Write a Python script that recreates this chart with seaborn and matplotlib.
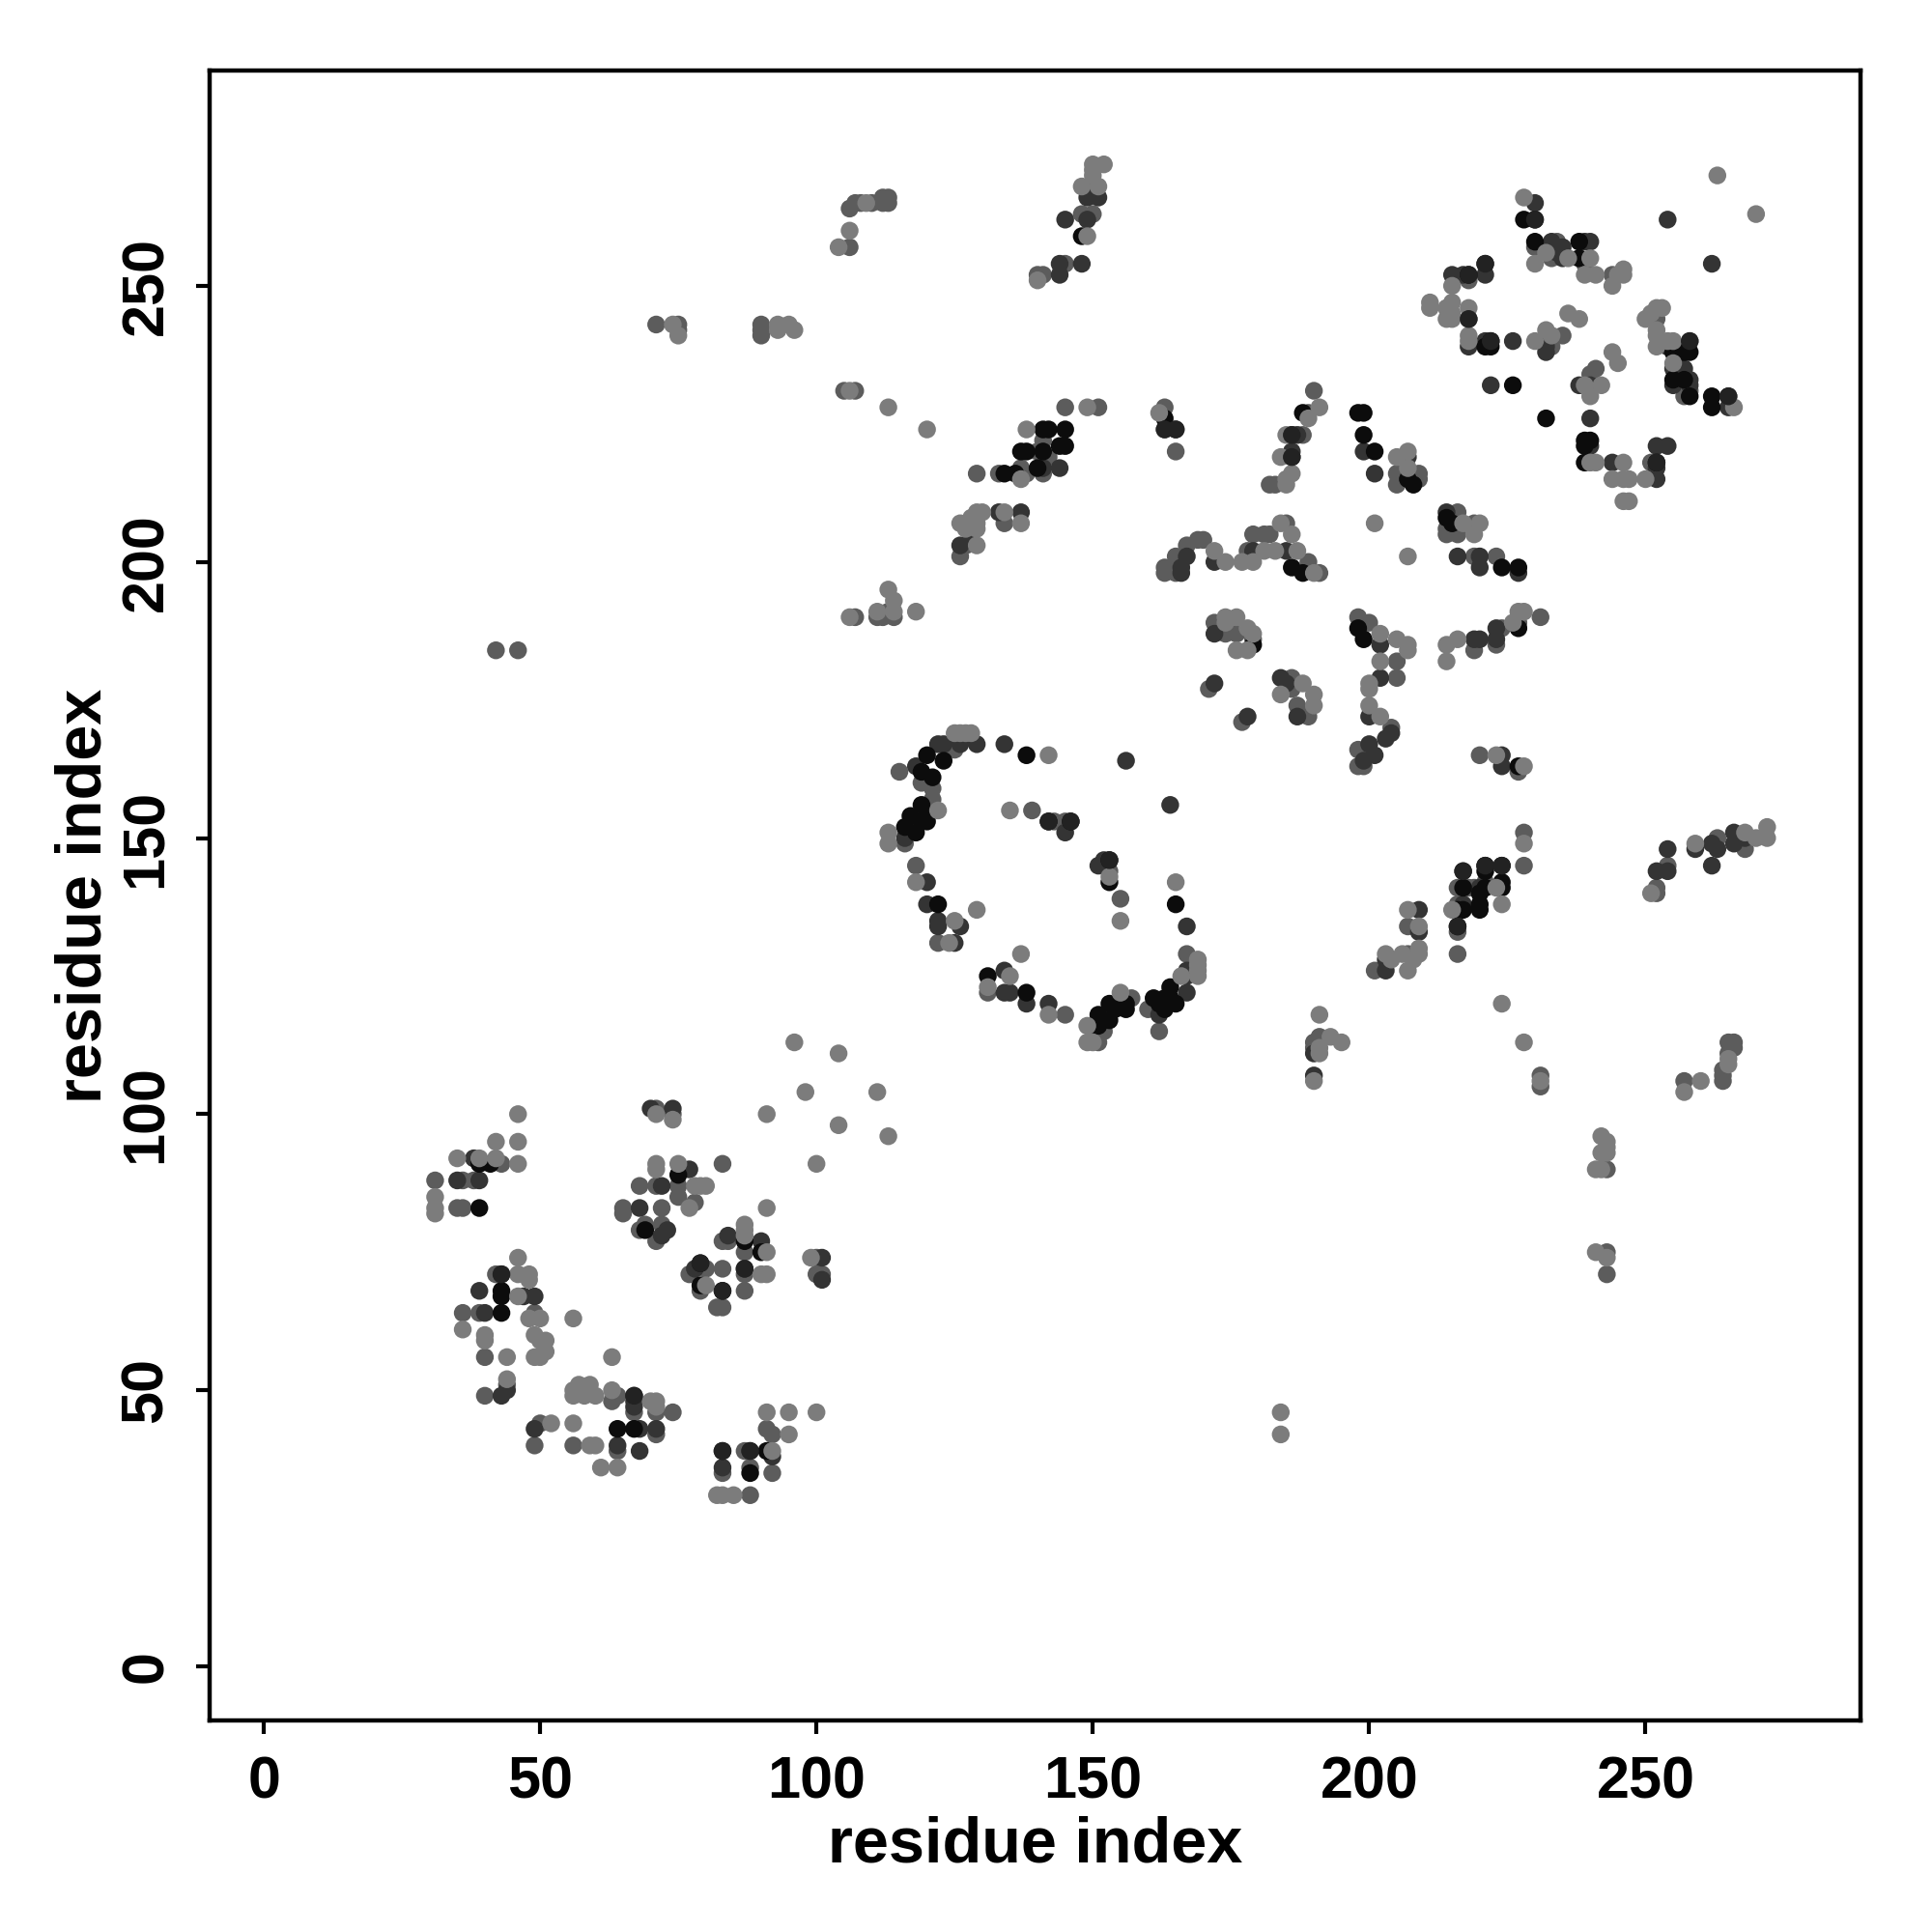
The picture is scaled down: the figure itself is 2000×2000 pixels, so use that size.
import matplotlib
matplotlib.use("Agg")
import matplotlib.pyplot as plt
import seaborn as sns
import pandas as pd

tick_values = [0, 50, 100, 150, 200, 250]

shade_black = [(39,91),(41,91),(39,83),(75,89),(69,79),(87,77),(90,75),(83,68),(79,73),(79,69),(43,68),(43,67),(43,64),
(64,43),(67,43),(83,39),(91,39),(88,35),(228,262),(230,262),(230,258),(218,252),(222,240),(221,239),(222,239),(226,232),(232,226),(238,258),(238,255),(239,222),(240,222),(239,221),(239,218),(252,218),(255,238),(258,238),(257,238),(255,233),(257,233),(258,230),(262,230),(262,228),
(148,259),(141,224),(142,224),(145,224),(144,221),(145,221),(137,220),(138,220),(141,220),(136,216),(140,217),(134,216),
(163,226),(198,227),(199,227),(188,227),(199,223),(201,220),(207,215),(208,214),(214,208),(215,207),(186,199),(188,198),(224,199),(227,199),(179,185),(198,188),(199,186),(227,188),(227,163),
(138,165),(120,165),(123,164),(119,162),(121,161),(119,156),(117,154),(120,154),(119,153),(116,152),(120,153),(118,151),(142,153),(146,153),(153,146),(153,142),(122,138),(165,138),
(165,120),(164,123),(163,121),(164,121),(162,120),(161,121),(163,119),(131,125),(138,122),(156,120),(156,119),(153,120),(154,119),(151,118),(153,117),(152,117),(151,116),
(221,145),(221,144),(224,145),(224,142),(224,141),(217,141),(220,140),(221,141),(216,137),(217,137),(220,137),(220,138),(216,134)]

shade_dark = [(38,92),(35,88),(39,88),(70,101),(74,101),(77,90),(72,87),(68,83),(73,79),(72,78),(84,78),(90,77),(87,72),(78,72),(101,74),(101,70),
(39,68),(47,67),(49,67),(40,64),(43,71),(44,50),(43,49),(67,49),(67,48),(67,47),(49,43),(68,43),(71,43),(64,40),(68,39),(83,36),(88,39),(92,38),
(254,262),(262,254),(230,265),(233,258),(234,256),(235,257),(235,255),(239,258),(240,258),(221,254),(221,252),(215,252),(217,252),(218,244),(218,239),(221,240),(226,240),(232,239),(232,238),(222,232),(238,232),(240,232),(240,226),(240,221),(244,218),(252,215),(252,217),(252,221),(254,221),(254,239),(255,235),(257,235),(258,233),(255,232),(258,232),(265,230),(265,228),
(149,267),(151,266),(149,266),(149,262),(145,262),(148,254),(144,254),(144,252),(141,217),(144,217),(137,209),(133,209),(128,205),(126,203),(165,224),
(186,220),(186,219),(187,223),(186,223),(199,220),(201,216),(207,219),(214,209),(216,201),(220,201),(220,199),(227,198),(166,198),(166,199),(167,201),(172,200),(179,202),(185,202),(172,187),
(172,178),(178,172),(184,179),(185,178),(187,172),(202,185),(202,179),(200,172),(204,169),(203,168),(201,165),(200,167),(199,164),(219,186),(220,186),(223,188),(223,186),(224,165),(224,163),
(122,167),(123,167),(126,167),(129,167),(134,167),(118,163),(116,150),(145,151),(151,145),(152,146),(120,142),(120,138),(167,134),(122,135),(122,134),(126,134),(125,131),
(164,156),(156,164),(167,126),(167,125),(167,122),(162,118),(134,126),(134,122),(135,122),(138,120),(142,120),(150,116),
(217,144),(220,141),(217,138),(209,137),(209,133),(203,128),(203,126),(266,151),(266,149),(262,149),(263,148),(259,148),(262,145),(254,148),(254,144),(252,144),(268,150),(190,111),(190,107)]

shade_mid = [(31,88),(36,88),(38,88),(35,83),(36,83),(43,91),(71,101),(74,100),(68,87),(71,87),(75,87),(75,85),(78,84),(65,83),(65,82),(72,83),(83,91),(69,80),(72,80),(68,79),(71,77),
(84,77),(87,75),(83,77),(87,71),(77,71),(79,68),(80,72),(87,68),(83,72),(82,65),(83,65),(100,74),(100,71),(101,71),
(42,71),(36,64),(39,64),(49,64),(40,56),(44,51),(40,49),(64,49),(63,48),(67,46),(71,46),(74,46),(50,44),(49,40),(71,42),(56,40),(64,39),(91,43),(92,42),(87,39),(83,35),(92,35),(88,36),(88,31),
(71,243),(75,243),(75,242),(90,243),(90,242),(90,241),(106,257),(106,264),(107,265),(108,265),(110,265),(112,265),(113,266),(113,265),(112,266),
(148,263),(150,263),(145,254),(141,252),(140,252),(105,231),(107,231),(145,228),(151,228),(141,222),(140,220),(142,219),(137,217),(141,216),(138,216),(133,216),(129,216),
(134,207),(127,203),(126,201),(114,190),(111,190),(112,190),(113,191),(107,190),(163,228),(163,224),(165,220),(190,231),(189,227),(188,223),(182,214),(183,214),(205,216),(205,214),(209,216),(209,215),
(216,209),(214,205),(216,205),(219,207),(214,206),(219,201),(223,201),(163,199),(163,198),(165,198),(165,201),(167,203),(169,204),(170,204),(178,202),(179,205),(181,205),(182,205),(185,207),(189,200),(191,198),
(172,189),(174,187),(176,187),(179,186),(171,177),(177,171),(186,179),(186,177),(187,174),(189,172),(198,190),(200,189),(205,182),(205,179),(204,170),(198,166),(198,163),(199,163),
(219,184),(224,188),(223,185),(227,189),(231,190),(220,165),(227,162),(228,151),(228,145),(125,166),(115,162),(119,160),(121,159),(121,157),(116,149),(139,155),(145,153),(153,144),(155,139),(118,145),
(122,131),(167,129),(131,122),(157,121),(160,119),(162,115),(145,118),(152,115),(151,113),(143,153),
(230,257),(233,255),(234,258),(239,254),(244,252),(218,251),(232,240),(235,241),(233,239),(241,235),(240,234),(252,244),(258,240),(257,230),(258,231),(251,218),
(216,138),(216,141),(218,141),(219,141),(221,142),(216,133),(216,129),(207,134),(207,129),(201,126),(268,148),(263,150),(254,145),(252,141),(252,140),
(231,107),(231,105),(257,106),(264,108),(264,107),(264,106),(266,113),(266,112),(265,113),(265,111),(243,90),(243,75),(243,71),(190,113),(191,114),(190,112),(42,184),(46,184)]

shade_light = [(46,100),(42,95),(46,95),(35,92),(42,92),(46,91),(31,85),(31,83),(31,82),(39,92),(71,100),(74,99),(71,91),(75,91),(71,90),(78,87),(79,87),(80,87),(77,83),
(91,83),(87,80),(87,79),(87,78),(91,75),(90,71),(91,71),(80,69),(96,113),(104,111),(98,104),(111,104),(91,100),(104,98),(113,96),(100,91),(99,74),
(46,74),(46,71),(48,71),(48,70),(46,67),(48,63),(50,63),(56,63),(36,61),(40,60),(40,59),(44,56),(49,60),(50,59),(51,59),(51,57),(49,56),(50,56),(63,56),(44,52),
(56,49),(56,50),(57,51),(59,51),(57,50),(60,49),(58,49),(63,50),(71,48),(71,47),(70,48),(56,44),(52,44),(59,40),(60,40),(61,36),(64,36),(91,46),(95,46),(100,46),(95,42),(92,39),(82,31),(83,31),(85,31),
(74,243),(93,243),(95,243),(96,242),(93,242),(75,241),(106,260),(104,257),(109,265),(150,272),(152,272),(150,271),(150,270),(148,268),(151,268),(149,259),(140,251),
(106,231),(113,228),(120,224),(149,228),(138,224),(137,215),(137,207),(134,209),(129,209),(130,209),(128,208),(129,207),(126,207),(127,206),(129,206),(129,203),
(113,195),(114,193),(114,191),(111,191),(118,191),(106,190),(162,227),(191,228),(189,226),(185,223),(184,219),(186,216),(185,215),(185,214),(205,219),(207,220),(207,217),
(201,207),(207,201),(217,207),(220,207),(219,205),(172,202),(174,200),(177,200),(179,200),(181,202),(183,202),(184,207),(186,205),(187,202),(190,198),(174,190),(176,190),(174,189),(178,188),(179,187),(176,184),(178,184),(188,178),(184,176),(190,176),(190,174),
(202,187),(205,186),(207,185),(207,184),(202,182),(200,178),(200,177),(200,174),(202,172),(214,185),(214,182),(216,186),(226,189),(227,191),(228,191),(223,165),(228,163),(228,149),
(125,169),(126,169),(127,169),(128,169),(142,165),(122,155),(113,151),(113,149),(135,155),(153,143),(155,135),(118,142),(165,142),(125,135),(129,137),(124,131),(137,129),
(169,128),(169,127),(169,126),(169,125),(166,125),(131,123),(135,125),(142,118),(155,122),(149,116),(149,113),(150,113),(224,120),(228,113),(231,106),
(263,270),(270,263),(228,266),(232,256),(236,255),(240,255),(239,252),(241,252),(245,252),(244,250),(246,253),(246,252),(215,250),(211,247),(211,246),(215,247),(214,246),(215,245),(214,244),(215,244),(218,246),(218,241),(218,240),
(230,240),(232,242),(233,241),(236,245),(238,244),(239,232),(242,232),(240,230),(244,238),(245,236),(240,218),(241,218),(246,218),(244,215),(246,215),(247,215),(250,215),(246,211),(247,211),
(250,244),(251,245),(253,246),(252,246),(252,242),(252,241),(252,239),(254,240),(255,240),(255,236),(266,228),(230,254),
(215,137),(224,138),(223,141),(207,137),(209,134),(209,130),(209,129),(203,129),(206,129),(204,128),(208,128),(207,126),
(272,152),(272,150),(270,150),(268,151),(259,149),(251,140),(257,104),(260,106),(265,110),(265,109),
(242,96),(243,95),(242,93),(243,93),(243,94),(241,90),(242,90),(241,75),(243,74),(191,118),(193,114),(195,113),(191,112),(191,111),(190,106),(184,46),(184,42)]

# dark contacts that lie over lighter neighbours in the picture
shade_over = [(83,39),(43,71),(67,49),(88,39),(252,218),(230,262),(258,240),(265,230),(218,252),(221,254),(222,240),
(142,153),(146,153),(153,146),(224,145),(221,145),(217,144),(216,134),(163,224),(165,224),(218,244),(87,72),(83,68),(79,73),(186,219),(186,223)]

layers = [(shade_mid, "#5c5c5c"), (shade_dark, "#343434"), (shade_black, "#0c0c0c"),
          (shade_light, "#7c7c7c"), (shade_over, "#222222")]
rows = []
for pairs, col in layers:
    rows += [(a, b, col) for a, b in pairs]
df = pd.DataFrame(rows, columns=["i", "j", "shade"])
df["order"] = range(len(df))

sns.set_theme(style="white")
plt.rcParams["font.family"] = ["Liberation Sans", "DejaVu Sans"]
plt.rcParams["font.weight"] = "bold"

fig = plt.figure(figsize=(10, 10), dpi=200)
ax = fig.add_axes([217/2000, 1-1781/2000, (1926-217)/2000, (1781-73)/2000])
sns.scatterplot(data=df, x="i", y="j", hue="shade",
                palette={c: c for c in df["shade"].unique()},
                s=44, linewidth=0, legend=False, ax=ax, zorder=3)
ax.set_xlim(-9.8, 288.9)
ax.set_ylim(-9.8, 289)
ax.set_xticks(tick_values)
ax.set_yticks(tick_values)
ax.tick_params(axis="both", direction="out", length=5, width=1.5, color="black",
               labelsize=22, labelcolor="black", bottom=True, left=True, pad=8)
for t in ax.get_yticklabels():
    t.set_rotation(90)
    t.set_va("center")
for t in ax.get_xticklabels() + ax.get_yticklabels():
    t.set_fontweight("bold")
for s in ax.spines.values():
    s.set_visible(True)
    s.set_linewidth(1.6)
    s.set_color("black")
ax.set_xlabel("residue index", fontsize=24, fontweight="bold", color="black", labelpad=2)
ax.set_ylabel("residue index", fontsize=24, fontweight="bold", color="black", labelpad=2)
ax.grid(False)
fig.savefig("out.png", dpi=200, facecolor="white")
